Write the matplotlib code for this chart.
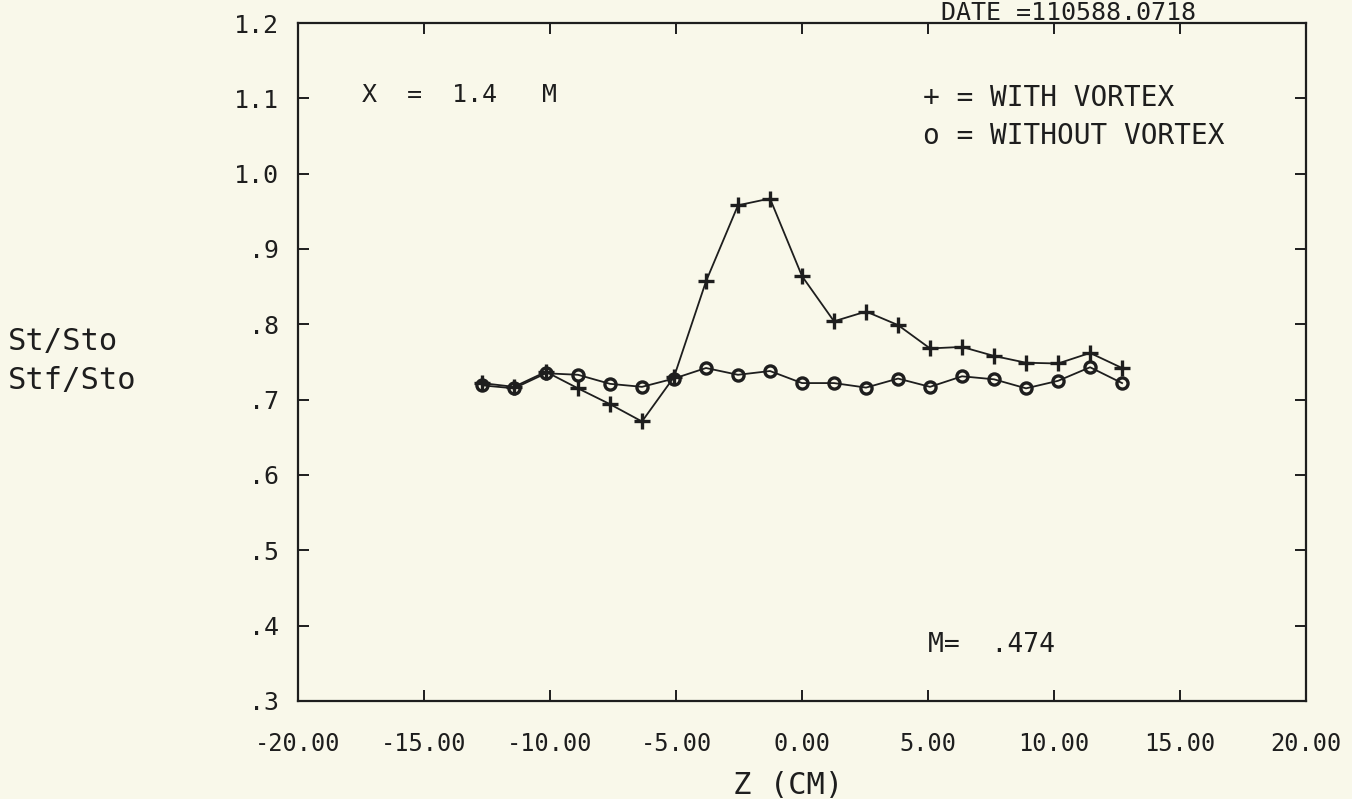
import matplotlib
matplotlib.use('Agg')
import matplotlib.pyplot as plt

plt.rcParams['axes.unicode_minus'] = False
plt.rcParams['font.family'] = ['DejaVu Sans Mono']

# station positions across the span (cm)
z_cm = [-12.70, -11.43, -10.16, -8.89, -7.62, -6.35, -5.08, -3.81, -2.54, -1.27, 0.00,
        1.27, 2.54, 3.81, 5.08, 6.35, 7.62, 8.89, 10.16, 11.43, 12.70]
# St/Sto, with vortex (+)
with_vortex = [0.722, 0.717, 0.737, 0.715, 0.694, 0.671, 0.730, 0.857, 0.958, 0.967, 0.864,
               0.804, 0.817, 0.799, 0.768, 0.770, 0.758, 0.749, 0.748, 0.762, 0.742]
# Stf/Sto, without vortex (o)
without_vortex = [0.719, 0.715, 0.735, 0.733, 0.721, 0.717, 0.728, 0.742, 0.733, 0.738, 0.722,
                  0.722, 0.716, 0.728, 0.717, 0.731, 0.727, 0.715, 0.725, 0.743, 0.722]

x_ticks = [-20, -15, -10, -5, 0, 5, 10, 15, 20]
y_ticks = [0.3, 0.4, 0.5, 0.6, 0.7, 0.8, 0.9, 1.0, 1.1, 1.2]
y_ticklabels = ['.3', '.4', '.5', '.6', '.7', '.8', '.9', '1.0', '1.1', '1.2']

bg = '#f9f8ea'
ink = '#1e1e1e'

fig = plt.figure(figsize=(13.52, 7.99), dpi=100, facecolor=bg)
ax = fig.add_axes([0.2204, 0.1227, 0.7456, 0.8485], facecolor=bg)

ax.plot(z_cm, with_vortex, color=ink, lw=1.3, marker='+', ms=12, mew=2.4)
ax.plot(z_cm, without_vortex, color=ink, lw=1.3, marker='o', ms=8,
        mfc='none', mec=ink, mew=2.4)

ax.set_xlim(-20, 20)
ax.set_ylim(0.3, 1.2)
ax.set_xticks(x_ticks)
ax.set_xticklabels(['%.2f' % v for v in x_ticks])
ax.set_yticks(y_ticks)
ax.set_yticklabels(y_ticklabels)

ax.tick_params(direction='in', top=True, right=True, length=8, width=1.4, color=ink)
ax.tick_params(axis='x', labelsize=17, pad=22, labelcolor=ink)
ax.tick_params(axis='y', labelsize=18, pad=14, labelcolor=ink)
for s in ax.spines.values():
    s.set_linewidth(1.6)
    s.set_color(ink)

ax.text(-17.46, 1.104, 'X  =  1.4   M', fontsize=18, color=ink, va='center')
ax.text(4.8, 1.10, '+ = WITH VORTEX', fontsize=20, color=ink, va='center')
ax.text(4.8, 1.05, 'o = WITHOUT VORTEX', fontsize=20, color=ink, va='center')
ax.text(5.0, 0.374, 'M=  .474', fontsize=19, color=ink, va='center')

fig.text(0.006, 0.572, 'St/Sto', fontsize=22, color=ink, va='center')
fig.text(0.006, 0.5244, 'Stf/Sto', fontsize=22, color=ink, va='center')
fig.text(0.583, 0.0175, 'Z (CM)', fontsize=22, color=ink, ha='center', va='center')
fig.text(0.79, 0.9985, 'DATE =110588.0718', fontsize=18, color=ink, ha='center', va='top')

fig.savefig('out.png', dpi=100, facecolor=bg)
